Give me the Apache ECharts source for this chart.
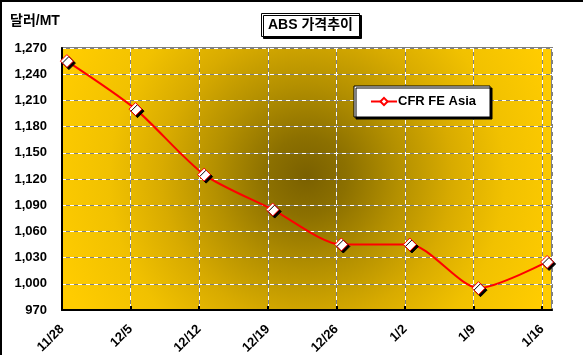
<!DOCTYPE html>
<html>
<head>
<meta charset="utf-8">
<script src="https://cdn.jsdelivr.net/npm/echarts@6/dist/echarts.min.js"></script>
<style>
html,body{margin:0;padding:0;background:#fff;}
#c{width:583px;height:360px;}
</style>
</head>
<body>
<div id="c"></div>
<script>
// ---- data ----
var chartTitle = 'ABS 가격추이';
var yUnit = '달러/MT';
var seriesName = 'CFR FE Asia';
var xTickLabels = ['11/28', '12/5', '12/12', '12/19', '12/26', '1/2', '1/9', '1/16'];
// days since 11/28 for each observation (points sit about half a day right of the weekly ticks)
var xDays = [0.5, 7.5, 14.5, 21.5, 28.5, 35.5, 42.5, 49.5];
var prices = [1255, 1200, 1125, 1085, 1045, 1045, 995, 1025];
var yTicks = [970, 1000, 1030, 1060, 1090, 1120, 1150, 1180, 1210, 1240, 1270];

var FONT = '"Liberation Sans", Arial, sans-serif';
var KFONT = '"Liberation Sans", "Noto Sans CJK KR", sans-serif';

var chart = echarts.init(document.getElementById('c'), null, {renderer: 'canvas'});

var pts = xDays.map(function (d, i) { return [d, prices[i]]; });

var yAxisBase = {
  type: 'value',
  min: yTicks[0],
  max: yTicks[yTicks.length - 1],
  interval: yTicks[1] - yTicks[0]
};

var option = {
  backgroundColor: '#ffffff',
  animation: false,
  title: {
    text: chartTitle,
    left: 261,
    top: 13,
    padding: [4, 7, 4, 7],
    backgroundColor: '#ffffff',
    borderColor: '#000',
    borderWidth: 1,
    shadowColor: '#000',
    shadowBlur: 0,
    shadowOffsetX: 2,
    shadowOffsetY: 2,
    textStyle: {fontFamily: KFONT, fontSize: 14, fontWeight: 'bold', color: '#000', lineHeight: 16}
  },
  legend: {
    left: 354,
    top: 86,
    padding: [9, 14, 9, 16],
    backgroundColor: '#ffffff',
    borderColor: '#000',
    borderWidth: 1,
    shadowColor: '#000',
    shadowBlur: 0,
    shadowOffsetX: 2,
    shadowOffsetY: 2,
    itemWidth: 26,
    itemHeight: 9,
    itemGap: 0,
    textStyle: {fontFamily: FONT, fontSize: 13, fontWeight: 'bold', color: '#000', padding: [0, 0, 0, -4]},
    itemStyle: {shadowBlur: 0, shadowOffsetX: 0, shadowOffsetY: 0, shadowColor: 'transparent'},
    data: [seriesName]
  },
  grid: {
    left: 62, right: 31, top: 48, bottom: 50,
    show: true,
    borderColor: '#808080',
    borderWidth: 2,
    backgroundColor: {
      type: 'radial', x: 0.5, y: 0.49, r: 1.0,
      colorStops: [
        {offset: 0, color: '#7a6000'},
        {offset: 0.15, color: '#8c7000'},
        {offset: 0.35, color: '#b49000'},
        {offset: 0.55, color: '#d8ab00'},
        {offset: 0.75, color: '#f1c100'},
        {offset: 1, color: '#ffcc00'}
      ]
    }
  },
  xAxis: [{
    type: 'value',
    min: 0, max: 50, interval: 7,
    axisLine: {show: true, lineStyle: {color: '#000', width: 2}},
    axisTick: {show: true, inside: true, length: 4, lineStyle: {color: '#000', width: 2}},
    splitLine: {show: true, lineStyle: {color: '#808080', width: 1, type: 'solid'}},
    axisLabel: {
      rotate: 45, margin: 17,
      fontFamily: FONT, fontSize: 13, fontWeight: 'bold', color: '#000',
      showMaxLabel: false,
      formatter: function (v) {
        if (v % 7 !== 0) return '';
        var i = v / 7;
        return xTickLabels[i] || '';
      }
    }
  }, {
    type: 'value', position: 'bottom',
    min: 0, max: 50, interval: 7,
    axisLine: {show: false}, axisTick: {show: false}, axisLabel: {show: false},
    splitLine: {show: true, lineStyle: {color: '#ffffff', width: 1, type: [4, 4]}}
  }],
  yAxis: [Object.assign({}, yAxisBase, {
    axisLine: {show: true, lineStyle: {color: '#000', width: 2}},
    axisTick: {show: false},
    splitLine: {show: true, lineStyle: {color: '#808080', width: 1, type: 'solid'}},
    axisLabel: {
      margin: 15,
      fontFamily: FONT, fontSize: 13, fontWeight: 'bold', color: '#000',
      formatter: function (v) { return v.toLocaleString('en-US'); }
    }
  }), Object.assign({}, yAxisBase, {
    position: 'left',
    axisLine: {show: false}, axisTick: {show: false}, axisLabel: {show: false},
    splitLine: {show: true, lineStyle: {color: '#ffffff', width: 1, type: [4, 4]}}
  })],
  graphic: [
    {type: 'text', left: 10, top: 14, style: {text: yUnit, font: 'bold 14px ' + KFONT, fill: '#000'}},
    {type: 'rect', shape: {x: 0, y: 0, width: 583, height: 2}, style: {fill: '#000'}},
    {type: 'rect', shape: {x: 0, y: 0, width: 2, height: 355}, style: {fill: '#000'}}
  ],
  series: [{
    name: seriesName,
    type: 'line',
    data: pts,
    smooth: 0.25,
    symbol: 'diamond',
    symbolSize: 13,
    lineStyle: {color: '#ff0000', width: 2},
    itemStyle: {color: '#ffffff', borderColor: '#ff0000', borderWidth: 1, shadowColor: '#000', shadowBlur: 0, shadowOffsetX: 2, shadowOffsetY: 2},
    z: 5
  }]
};

chart.setOption(option);
</script>
</body>
</html>
